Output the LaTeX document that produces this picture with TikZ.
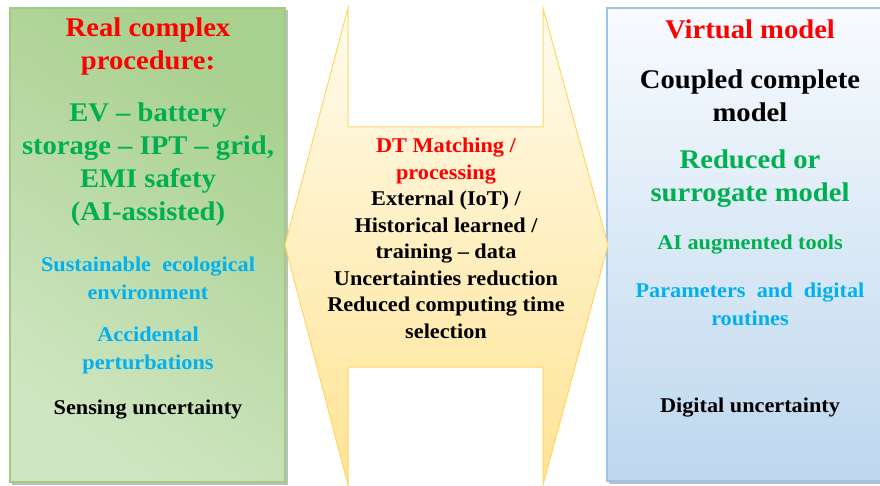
\documentclass[tikz,border=0pt]{standalone}
\usepackage{fontspec}
\setmainfont{Liberation Serif}[FakeStretch=1.06]
\usepackage{tikz}
\usetikzlibrary{positioning}
\definecolor{red1}{RGB}{255, 0, 0}
\definecolor{green1}{RGB}{0, 176, 80}
\definecolor{blue1}{RGB}{0, 176, 240}
\definecolor{leafline}{RGB}{160, 204, 134}
\definecolor{leafdark}{RGB}{168, 208, 142}
\definecolor{leafmid}{RGB}{208, 230, 194}
\definecolor{leaflight}{RGB}{234, 243, 228}
\definecolor{skyline}{RGB}{157, 195, 230}
\definecolor{skytop}{RGB}{248, 251, 254}
\definecolor{skybottom}{RGB}{189, 215, 238}
\definecolor{sunline}{RGB}{255, 214, 100}
\definecolor{suntop}{RGB}{255, 251, 238}
\definecolor{sunbottom}{RGB}{255, 228, 148}

\begin{document}
\begin{tikzpicture}[x=1pt, y=-1pt,
    big/.style={align=center, inner sep=0pt, font=\bfseries\fontsize{27}{33}\selectfont},
    small/.style={align=center, inner sep=0pt, font=\bfseries\fontsize{21}{28}\selectfont}]
  \useasboundingbox (0,0) rectangle (880,486);

  % left panel: real procedure
  \fill[black!25] (12,10) rectangle (288,485);
  \path[draw=leafline, line width=1.5pt, top color=leafdark, middle color=leaflight,
        bottom color=leafmid, shading angle=-35] (10,8) rectangle (285,482);

  % right panel: virtual model
  \fill[black!25] (609,10) rectangle (900,484);
  \path[draw=skyline, line width=1.5pt, top color=skytop, bottom color=skybottom]
        (607,8) rectangle (895,481);

  % middle double arrow
  \path[draw=sunline, line width=1pt, top color=suntop, bottom color=sunbottom]
        (285,245) -- (348,8) -- (348,127) -- (543,127) -- (543,8) -- (608,245)
        -- (543,485) -- (543,367) -- (348,367) -- (348,485) -- cycle;

  \node[big, text=red1] (realtitle) at (148,46.5) {Real complex\\procedure:};
  \node[big, text=green1] (realev) at (148,164.5)
    {EV -- battery\\storage -- IPT -- grid,\\EMI safety\\(AI-assisted)};
  \node[small, text=blue1] (realeco) at (148,278) {Sustainable \ ecological\\environment};
  \node[small, text=blue1] (realacc) at (148,350.5) {Accidental\\perturbations};
  \node[small] (realsense) at (148,410) {Sensing uncertainty};

  \node[align=center, inner sep=0pt, font=\bfseries\fontsize{21}{26.5}\selectfont] (dtmatch) at (446,238.5)
    {\textcolor{red1}{DT Matching /}\\\textcolor{red1}{processing}\\External (IoT) /\\Historical learned /\\
     training -- data\\Uncertainties reduction\\Reduced computing time\\selection};

  \node[big, text=red1] (virttitle) at (750,29) {Virtual model};
  \node[big] (virtcoupled) at (750,96) {Coupled complete\\model};
  \node[big, text=green1] (virtreduced) at (750,179) {Reduced or\\surrogate model};
  \node[small, text=green1] (virtai) at (750,245) {AI augmented tools};
  \node[small, text=blue1] (virtparam) at (750,304) {Parameters \ and \ digital\\routines};
  \node[small] (virtunc) at (750,408) {Digital uncertainty};
\end{tikzpicture}
\end{document}
